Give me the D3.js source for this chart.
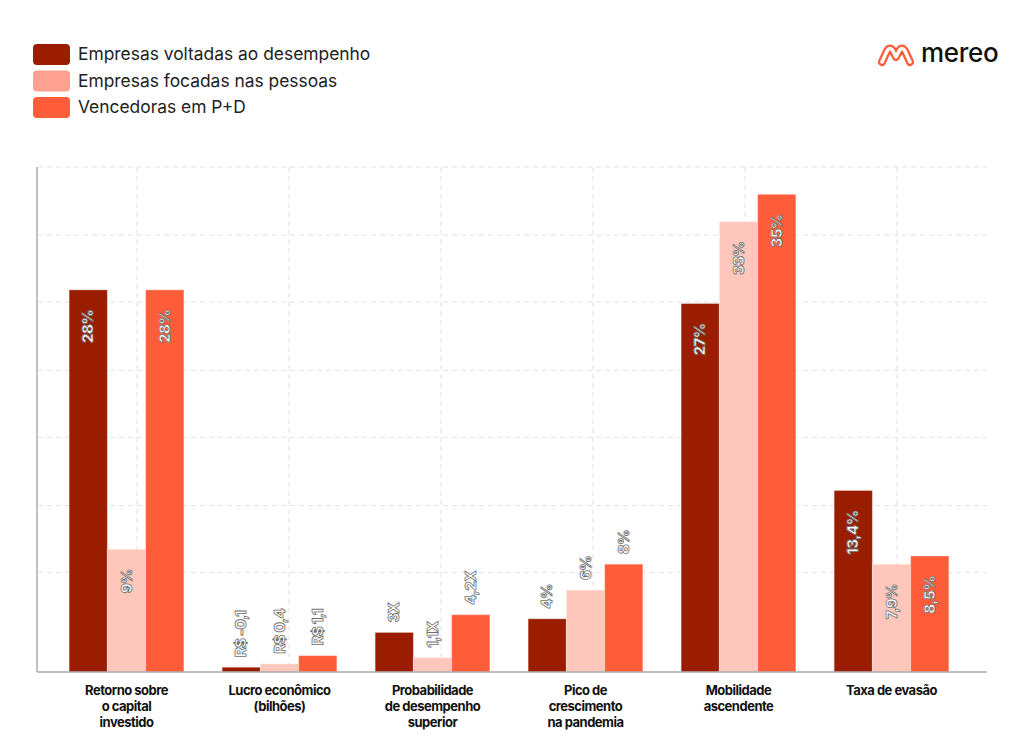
<!DOCTYPE html>
<html>
<head>
<meta charset="utf-8">
<script src="https://cdn.jsdelivr.net/npm/d3@7"></script>
<style>
  body { margin: 0; background: #fff; }
  svg { display: block; font-family: Inter, "Noto Sans", sans-serif; }
</style>
</head>
<body>
<svg id="chart" width="1024" height="754"></svg>
<script>
// Chart data
const categories = [
  ['Retorno sobre', 'o capital', 'investido'],
  ['Lucro econômico', '(bilhões)'],
  ['Probabilidade', 'de desempenho', 'superior'],
  ['Pico de', 'crescimento', 'na pandemia'],
  ['Mobilidade', 'ascendente'],
  ['Taxa de evasão']
];
const seriesNames = ['Empresas voltadas ao desempenho', 'Empresas focadas nas pessoas', 'Vencedoras em P+D'];

const performance = [28, 0.35, 2.9, 3.9, 27, 13.3];
const people = [9, 0.6, 1.05, 6, 33, 7.9];
const rnd = [28, 1.2, 4.2, 7.9, 35, 8.5];

const performanceLabels = ['28%', 'R$ -0,1', '3X', '4%', '27%', '13,4%'];
const peopleLabels = ['9%', 'R$ 0,4', '1,1X', '6%', '33%', '7,9%'];
const rndLabels = ['28%', 'R$ 1,1', '4,2X', '8%', '35%', '8,5%'];

const gridValues = [7.3, 12.2, 17.2, 22.1, 27.1, 32, 37];

const colors = ['#9b1d00', '#ffc7bc', '#ff5c3a'];
const legendColors = ['#9b1d00', '#ffa190', '#ff5c3a'];

const series = [
  { name: seriesNames[0], values: performance, labels: performanceLabels },
  { name: seriesNames[1], values: people, labels: peopleLabels },
  { name: seriesNames[2], values: rnd, labels: rndLabels }
];
// groups where the value labels sit inside the bars
const insideGroups = [0, 4, 5];

const svg = d3.select('#chart');

// Scales
const x = d3.scaleBand()
  .domain(d3.range(categories.length))
  .range([50, 968])
  .paddingInner(0.25)
  .paddingOuter(0.125);

const xSub = d3.scaleBand()
  .domain(d3.range(series.length))
  .range([0, x.bandwidth()]);

const xGrid = d3.scalePoint()
  .domain(d3.range(categories.length))
  .range([137, 897]);

const y = d3.scaleLinear()
  .domain([0, 37])
  .range([672, 167]);

// Grid
const grid = svg.append('g').attr('stroke', '#e2e2e2').attr('stroke-dasharray', '5,4');
grid.selectAll('.hgrid')
  .data(gridValues)
  .join('line')
  .attr('x1', 38).attr('x2', 987)
  .attr('y1', d => y(d)).attr('y2', d => y(d));
grid.selectAll('.vgrid')
  .data(d3.range(categories.length))
  .join('line')
  .attr('x1', d => xGrid(d))
  .attr('x2', d => xGrid(d))
  .attr('y1', y(37)).attr('y2', y(0));

// Bars
const groups = svg.append('g').selectAll('g')
  .data(categories)
  .join('g')
  .attr('transform', (d, i) => `translate(${x(i)},0)`);

groups.each(function(cat, gi) {
  const g = d3.select(this);
  series.forEach((s, si) => {
    const v = s.values[gi];
    g.append('rect')
      .attr('x', xSub(si))
      .attr('y', y(v))
      .attr('width', xSub.bandwidth())
      .attr('height', y(0) - y(v))
      .attr('fill', colors[si])
      .attr('stroke', 'rgba(255,255,255,0.35)')
      .attr('stroke-width', 1);

    const inside = insideGroups.includes(gi);
    const cx = xSub(si) + xSub.bandwidth() / 2;
    const ty = inside ? y(v) + 20 : y(v) - 10;
    g.append('text')
      .attr('transform', `translate(${cx + 5},${ty}) rotate(-90)`)
      .attr('text-anchor', inside ? 'end' : 'start')
      .attr('font-size', 15)
      .attr('font-weight', 800)
      .attr('letter-spacing', -0.6)
      .attr('fill', '#fff')
      .attr('stroke', '#6e6e6e')
      .attr('stroke-width', 0.8)
      .text(s.labels[gi]);
  });
});

// Axes lines
svg.append('line')
  .attr('x1', 37).attr('x2', 37)
  .attr('y1', y(37)).attr('y2', y(0))
  .attr('stroke', '#aaa').attr('stroke-width', 1.5);
svg.append('line')
  .attr('x1', 37).attr('x2', 987)
  .attr('y1', y(0)).attr('y2', y(0))
  .attr('stroke', '#aaa').attr('stroke-width', 1.5);

// Category labels
svg.append('g').selectAll('text')
  .data(categories)
  .join('text')
  .attr('x', (d, i) => x(i) + x.bandwidth() / 2)
  .attr('y', 695)
  .attr('text-anchor', 'middle')
  .attr('font-size', 13)
  .attr('font-weight', 700)
  .attr('letter-spacing', -0.5)
  .attr('fill', '#111')
  .each(function(lines) {
    d3.select(this).selectAll('tspan')
      .data(lines)
      .join('tspan')
      .attr('x', d3.select(this).attr('x'))
      .attr('dy', (d, i) => i === 0 ? 0 : 16)
      .text(d => d);
  });

// Legend
const legend = svg.append('g').attr('transform', 'translate(33,44)');
series.forEach((s, i) => {
  const row = legend.append('g').attr('transform', `translate(0,${i * 26.5})`);
  row.append('rect')
    .attr('width', 37).attr('height', 21)
    .attr('rx', 4)
    .attr('fill', legendColors[i]);
  row.append('text')
    .attr('x', 45).attr('y', 16)
    .attr('font-size', 17.4)
    .attr('fill', '#222')
    .text(s.name);
});

// Logo
const logo = svg.append('g');
const logoPath = 'M882,62 L887,51 Q890,46 893,51 L896,57 L899,51 Q902,46 905,51 L910,62';
logo.append('path')
  .attr('d', logoPath)
  .attr('fill', 'none')
  .attr('stroke', '#ff5c3a')
  .attr('stroke-width', 8)
  .attr('stroke-linecap', 'round')
  .attr('stroke-linejoin', 'round');
logo.append('path')
  .attr('d', logoPath)
  .attr('fill', 'none')
  .attr('stroke', '#fff')
  .attr('stroke-width', 3.5)
  .attr('stroke-linecap', 'round')
  .attr('stroke-linejoin', 'round');
logo.append('text')
  .attr('x', 921).attr('y', 62)
  .attr('font-size', 26)
  .attr('font-weight', 500)
  .attr('fill', '#111')
  .attr('letter-spacing', -0.3)
  .text('mereo');
</script>
</body>
</html>
